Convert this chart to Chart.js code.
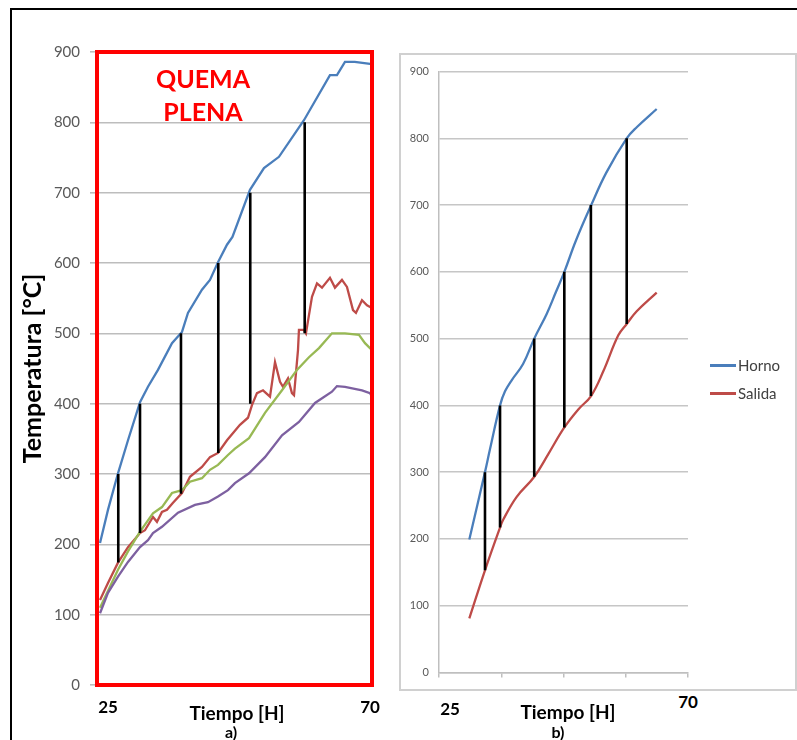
<!DOCTYPE html>
<html><head><meta charset="utf-8">
<script src="https://cdn.jsdelivr.net/npm/chart.js@4/dist/chart.umd.min.js"></script>
<style>
html,body{margin:0;padding:0;background:#fff;width:797px;height:740px;overflow:hidden;font-family:Lato,sans-serif;}
#frame{position:absolute;left:10px;top:8px;width:800px;height:740px;border-top:2px solid #000;border-left:2px solid #000;}
#boxB{position:absolute;left:399px;top:53px;width:398px;height:638px;border:2px solid #d0d0d0;box-sizing:border-box;}
#ca{position:absolute;left:12px;top:11px;}
#cb{position:absolute;left:401px;top:55px;}
.lbl{position:absolute;transform:translate(-50%,-50%);white-space:nowrap;font-family:Lato,sans-serif;font-weight:bold;color:#000;}
.legline{position:absolute;width:26px;height:3px;}
.legtxt{position:absolute;transform:translateY(-50%);font-family:Lato,sans-serif;font-size:15px;color:#404040;white-space:nowrap;}
</style></head>
<body>
<div id="frame"></div>
<div id="boxB"></div>
<canvas id="ca" width="378" height="727"></canvas>
<canvas id="cb" width="394" height="634"></canvas>
<div class="lbl" style="left:203px;top:78px;color:#ff0000;font-size:25px;">QUEMA</div>
<div class="lbl" style="left:203px;top:111px;color:#ff0000;font-size:25px;">PLENA</div>
<div class="lbl" style="left:108px;top:706px;font-size:17px;">25</div>
<div class="lbl" style="left:370px;top:706px;font-size:17px;">70</div>
<div class="lbl" style="left:237px;top:712px;font-size:19px;">Tiempo [H]</div>
<div class="lbl" style="left:231px;top:731px;font-size:16px;">a)</div>
<div class="lbl" style="left:450px;top:708px;font-size:17px;">25</div>
<div class="lbl" style="left:688px;top:701px;font-size:17px;">70</div>
<div class="lbl" style="left:568px;top:711px;font-size:19px;">Tiempo [H]</div>
<div class="lbl" style="left:558px;top:731px;font-size:16px;">b)</div>
<div class="legline" style="left:710px;top:364px;background:#4a7ebb;"></div>
<div class="legtxt" style="left:738px;top:365px;">Horno</div>
<div class="legline" style="left:710px;top:392px;background:#be4b48;"></div>
<div class="legtxt" style="left:738px;top:393px;">Salida</div>
<script>
// ---------- Panel a) QUEMA PLENA ----------
const yTicksA = [0,100,200,300,400,500,600,700,800,900];
const hornoA_h = [22.72,24.12,25.88,27.64,29.75,31.15,32.91,35.37,37.13,38.18,40.64,42.05,43.46,45.04,46.0,49.08,51.54,54.18,58.57,63.14,64.37,65.78,67.5,70.18,70.53];
const hornoA_t = [202,249,301,348,402,424,448,486,502,529,562,576,601,626,637,704,735,751,803,867,867,886,886,883,882];
const salidaA_h = [22.72,24.12,25.88,27.64,29.75,30.62,32.03,32.73,33.61,34.49,35.55,37.13,38.53,40.64,42.05,43.46,45.04,47.32,48.73,49.43,50.31,51.37,52.60,53.48,54.36,54.88,55.76,56.46,56.82,57.52,57.69,58.57,58.92,59.98,60.86,61.74,63.14,64.02,65.25,66.13,67.19,67.71,68.77,69.65,70.53];
const salidaA_t = [121,145,174,196,216,220,239,232,246,249,259,273,296,310,324,330,348,370,380,398,415,419,410,459,431,424,436,415,412,476,505,505,500,552,571,565,579,565,576,566,533,529,547,540,536];
const verdeA_h = [22.72,25.88,27.64,29.75,32.03,33.61,35.37,37.13,38.53,40.64,42.05,43.46,45.21,46.44,48.91,51.72,54.71,57.34,59.45,61.21,63.49,65.78,68.24,69.30,70.53];
const verdeA_t = [110,164,190,218,244,253,273,277,289,294,306,313,327,336,351,387,419,448,466,479,500,500,498,486,476];
const moradoA_h = [22.72,24.12,25.88,27.64,29.75,31.15,32.03,33.61,36.43,39.41,41.70,43.46,45.21,46.44,48.91,51.72,54.71,57.69,60.51,63.49,64.37,65.78,68.77,70.18,70.53];
const moradoA_t = [102,131,154,175,196,206,216,225,245,256,260,268,277,287,301,324,355,374,401,417,425,424,419,415,410];
const dropsA_h = [25.93,29.75,36.95,43.51,49.13,58.70];
const dropsA_top = [300,400,500,600,700,800];
const dropsA_bottom = [174,216,272,330,400,500];

// ---------- Panel b) ----------
const yTicksB = [0,100,200,300,400,500,600,700,800,900];
const xTicksB = [25,36.25,47.5,58.75,70];
const hornoB_h = [30.48,33.31,34.23,36.03,36.93,38.16,40.19,42.21,44.46,46.09,47.65,49.75,52.45,55.26,58.92,60.78,64.34];
const hornoB_t = [199,300,335,400,421,438,462,500,537,569,600,647,699,749,800,817,844];
const salidaB_h = [30.48,33.31,36.03,36.62,39.04,42.22,44.75,47.65,50.17,52.47,54.69,57.40,58.92,60.73,64.34];
const salidaB_t = [81,153,217,229,263,293,327,367,394,414,451,505,522,541,569];
const dropsB_h = [33.31,36.03,42.21,47.65,52.45,58.92];
const dropsB_top = [300,400,500,600,700,800];
const dropsB_bottom = [153,217,293,367,414,522];

const pts = (xs, ys) => xs.map((x, i) => ({x, y: ys[i]}));
const line = (label, xs, ys, color, tension) => ({label, data: pts(xs, ys), borderColor: color, backgroundColor: color, borderWidth: 2.3, pointRadius: 0, tension: tension, fill: false});
const drops = (xs, tops, bots) => xs.map((x, i) => ({label: 'drop' + i, data: [{x, y: tops[i]}, {x, y: bots[i]}], borderColor: '#000', borderWidth: 2.6, pointRadius: 0, fill: false}));

const redBox = {id: 'redBox', afterDatasetsDraw(c) {
  const {left, top, right, bottom} = c.chartArea; const ctx = c.ctx;
  ctx.save(); ctx.strokeStyle = '#ff0000'; ctx.lineWidth = 4;
  ctx.strokeRect(left, top, right - left, bottom - top); ctx.restore();
}};

Chart.defaults.font.family = 'Lato';

new Chart(document.getElementById('ca'), {
  type: 'line',
  data: {datasets: [
    ...drops(dropsA_h, dropsA_top, dropsA_bottom),
    line('Serie 4', moradoA_h, moradoA_t, '#7d60a0', 0),
    line('Serie 3', verdeA_h, verdeA_t, '#98b954', 0),
    line('Salida', salidaA_h, salidaA_t, '#be4b48', 0),
    line('Horno', hornoA_h, hornoA_t, '#4a7ebb', 0)
  ]},
  options: {
    responsive: false, animation: false, events: [],
    layout: {padding: {top: 41, right: 18, left: 0, bottom: 0}},
    plugins: {legend: {display: false}, tooltip: {enabled: false}},
    scales: {
      x: {type: 'linear', min: 22.19, max: 70.53,
        afterFit(s) { s.height = 53; },
        grid: {display: false, drawTicks: false}, border: {display: false},
        ticks: {display: false}},
      y: {min: 0, max: 900,
        afterBuildTicks(s) { s.ticks = yTicksA.map(v => ({value: v})); },
        afterFit(s) { s.width = 85; },
        grid: {color: '#bdbdbd', lineWidth: 1.6, tickLength: 7, drawTicks: true},
        border: {display: false},
        ticks: {padding: 10, color: '#595959', font: {size: 15}},
        title: {display: true, text: 'Temperatura [°C]', color: '#000', padding: {top: 6, bottom: 0}, font: {size: 25, weight: 'bold'}}}
    }
  },
  plugins: [redBox]
});

new Chart(document.getElementById('cb'), {
  type: 'line',
  data: {datasets: [
    ...drops(dropsB_h, dropsB_top, dropsB_bottom),
    line('Salida', salidaB_h, salidaB_t, '#be4b48', 0.4),
    line('Horno', hornoB_h, hornoB_t, '#4a7ebb', 0.4)
  ]},
  options: {
    responsive: false, animation: false, events: [],
    layout: {padding: {top: 11, right: 107, left: 0, bottom: 0}},
    plugins: {legend: {display: false}, tooltip: {enabled: false}},
    scales: {
      x: {type: 'linear', min: 25, max: 70,
        afterBuildTicks(s) { s.ticks = xTicksB.map(v => ({value: v})); },
        afterFit(s) { s.height = 14; },
        grid: {display: true, drawOnChartArea: false, drawTicks: true, tickLength: 5, color: '#bfbfbf', lineWidth: 1.5},
        border: {display: true, color: '#bfbfbf', width: 1.5},
        ticks: {display: false}},
      y: {min: 0, max: 900,
        afterBuildTicks(s) { s.ticks = yTicksB.map(v => ({value: v})); },
        afterFit(s) { s.width = 38; },
        grid: {color: '#c6c6c6', lineWidth: 1.5, drawTicks: false},
        border: {display: true, color: '#bfbfbf', width: 1.5},
        ticks: {padding: 10, color: '#595959', font: {size: 11}}}
    }
  }
});
</script>
</body></html>
